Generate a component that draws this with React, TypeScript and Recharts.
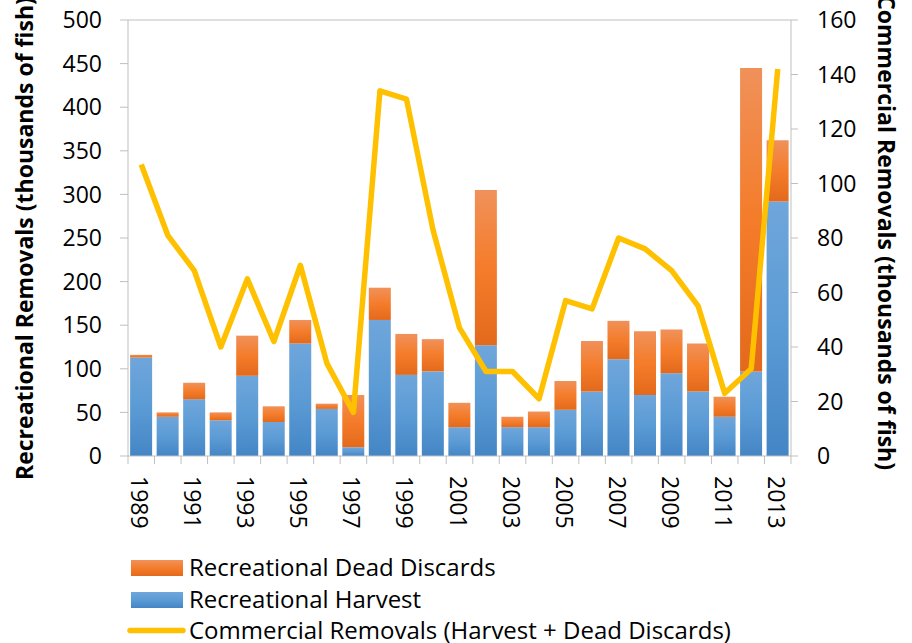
import {
  ComposedChart,
  Bar,
  Line,
  XAxis,
  YAxis,
  ReferenceLine,
  Label,
} from "recharts";

const years = [
  "1989", "1990", "1991", "1992", "1993", "1994", "1995", "1996", "1997",
  "1998", "1999", "2000", "2001", "2002", "2003", "2004", "2005", "2006",
  "2007", "2008", "2009", "2010", "2011", "2012", "2013",
];
const recHarvest = [
  113, 45, 65, 41, 92, 39, 129, 54, 10, 156, 93, 97, 33, 127, 33, 33, 53, 74,
  111, 70, 95, 74, 45, 97, 292,
];
const recDeadDiscards = [
  3, 5, 19, 9, 46, 18, 27, 6, 60, 37, 47, 37, 28, 178, 12, 18, 33, 58, 44, 73,
  50, 55, 23, 348, 70,
];
const commercialRemovals = [
  107, 81, 68, 40, 65, 42, 70, 34, 16, 134, 131, 83, 47, 31, 31, 21, 57, 54,
  80, 76, 68, 55, 23, 32, 142,
];
const leftTicks = [0, 50, 100, 150, 200, 250, 300, 350, 400, 450, 500];
const rightTicks = [0, 20, 40, 60, 80, 100, 120, 140, 160];

const data = years.map((year, i) => ({
  year,
  harvest: recHarvest[i],
  discards: recDeadDiscards[i],
  commercial: commercialRemovals[i],
}));

const FONT = "'Open Sans', Lato, sans-serif";
const AXIS = "#BFBFBF";
const YELLOW = "#FFC000";

const YearTick = (props: any) => {
  const { x, y, payload, index } = props;
  const half = payload.offset ?? 0;
  return (
    <g>
      <line x1={x - half} y1={y - 8} x2={x - half} y2={y} stroke={AXIS} />
      {index === years.length - 1 && (
        <line x1={x + half} y1={y - 8} x2={x + half} y2={y} stroke={AXIS} />
      )}
      {index % 2 === 0 && (
        <text
          x={x - 10}
          y={476}
          transform={`rotate(90 ${x - 10} 476)`}
          textAnchor="start"
          fontSize={23}
          fill="#000"
          fontFamily={FONT}
        >
          {payload.value}
        </text>
      )}
    </g>
  );
};

const Legendy = () => (
  <svg
    width={912}
    height={643}
    style={{ position: "absolute", left: 0, top: 0, pointerEvents: "none" }}
  >
    <defs>
      <linearGradient id="lgOrange" x1="0" y1="0" x2="0" y2="1">
        <stop offset="0%" stopColor="#F0915A" />
        <stop offset="50%" stopColor="#F47C2A" />
        <stop offset="100%" stopColor="#E36A1C" />
      </linearGradient>
      <linearGradient id="lgBlue" x1="0" y1="0" x2="0" y2="1">
        <stop offset="0%" stopColor="#6FA6DB" />
        <stop offset="50%" stopColor="#5B9BD5" />
        <stop offset="100%" stopColor="#4485C5" />
      </linearGradient>
    </defs>
    <rect x={131} y={560} width={52} height={16} fill="url(#lgOrange)" />
    <rect x={131} y={592} width={52} height={16} fill="url(#lgBlue)" />
    <line
      x1={130}
      y1={630.5}
      x2={183}
      y2={630.5}
      stroke={YELLOW}
      strokeWidth={5.5}
      strokeLinecap="round"
    />
    <g fontFamily={FONT} fontSize={24} fill="#000">
      <text x={189} y={576}>Recreational Dead Discards</text>
      <text x={189} y={608}>Recreational Harvest</text>
      <text x={189} y={639}>Commercial Removals (Harvest + Dead Discards)</text>
    </g>
  </svg>
);

const RemovalsChart = () => {
  return (
    <div
      style={{
        position: "absolute",
        left: 0,
        top: 0,
        width: 912,
        height: 643,
        background: "#fff",
        fontFamily: FONT,
      }}
    >
      <ComposedChart
        width={912}
        height={643}
        data={data}
        margin={{ top: 20, right: 0, left: 0, bottom: 0 }}
        barCategoryGap="8%"
      >
        <defs>
          <linearGradient id="gOrange" x1="0" y1="0" x2="0" y2="1">
            <stop offset="0%" stopColor="#F0915A" />
            <stop offset="50%" stopColor="#F47C2A" />
            <stop offset="100%" stopColor="#E36A1C" />
          </linearGradient>
          <linearGradient id="gBlue" x1="0" y1="0" x2="0" y2="1">
            <stop offset="0%" stopColor="#6FA6DB" />
            <stop offset="50%" stopColor="#5B9BD5" />
            <stop offset="100%" stopColor="#4485C5" />
          </linearGradient>
        </defs>
        <XAxis
          dataKey="year"
          height={187}
          interval={0}
          stroke={AXIS}
          tickLine={false}
          tick={<YearTick />}
        />
        <YAxis
          yAxisId="left"
          width={128}
          domain={[0, 500]}
          ticks={leftTicks}
          interval={0}
          stroke={AXIS}
          tickSize={8}
          tickMargin={18}
          tick={{ fill: "#000", fontSize: 23, fontFamily: FONT }}
        >
          <Label
            content={() => (
              <text
                x={33}
                y={480}
                transform="rotate(-90 33 480)"
                textAnchor="start"
                fontSize={23}
                fontWeight="bold"
                fill="#000"
                fontFamily={FONT}
              >
                Recreational Removals (thousands of fish)
              </text>
            )}
          />
        </YAxis>
        <YAxis
          yAxisId="right"
          orientation="right"
          width={121}
          domain={[0, 160]}
          ticks={rightTicks}
          interval={0}
          stroke={AXIS}
          tickSize={7}
          tickMargin={19}
          tick={{ fill: "#000", fontSize: 23, fontFamily: FONT }}
        >
          <Label
            content={() => (
              <text
                x={878}
                y={470}
                transform="rotate(90 878 470)"
                textAnchor="end"
                fontSize={23}
                fontWeight="bold"
                fill="#000"
                fontFamily={FONT}
              >
                Commercial Removals (thousands of fish)
              </text>
            )}
          />
        </YAxis>
        <ReferenceLine yAxisId="left" y={500} stroke={AXIS} />
        <Bar
          yAxisId="left"
          dataKey="harvest"
          stackId="rec"
          fill="url(#gBlue)"
          isAnimationActive={false}
        />
        <Bar
          yAxisId="left"
          dataKey="discards"
          stackId="rec"
          fill="url(#gOrange)"
          isAnimationActive={false}
        />
        <Line
          yAxisId="right"
          type="linear"
          dataKey="commercial"
          stroke={YELLOW}
          strokeWidth={5.5}
          strokeLinejoin="round"
          dot={false}
          activeDot={false}
          isAnimationActive={false}
        />
      </ComposedChart>
      <Legendy />
    </div>
  );
};

export default RemovalsChart;
